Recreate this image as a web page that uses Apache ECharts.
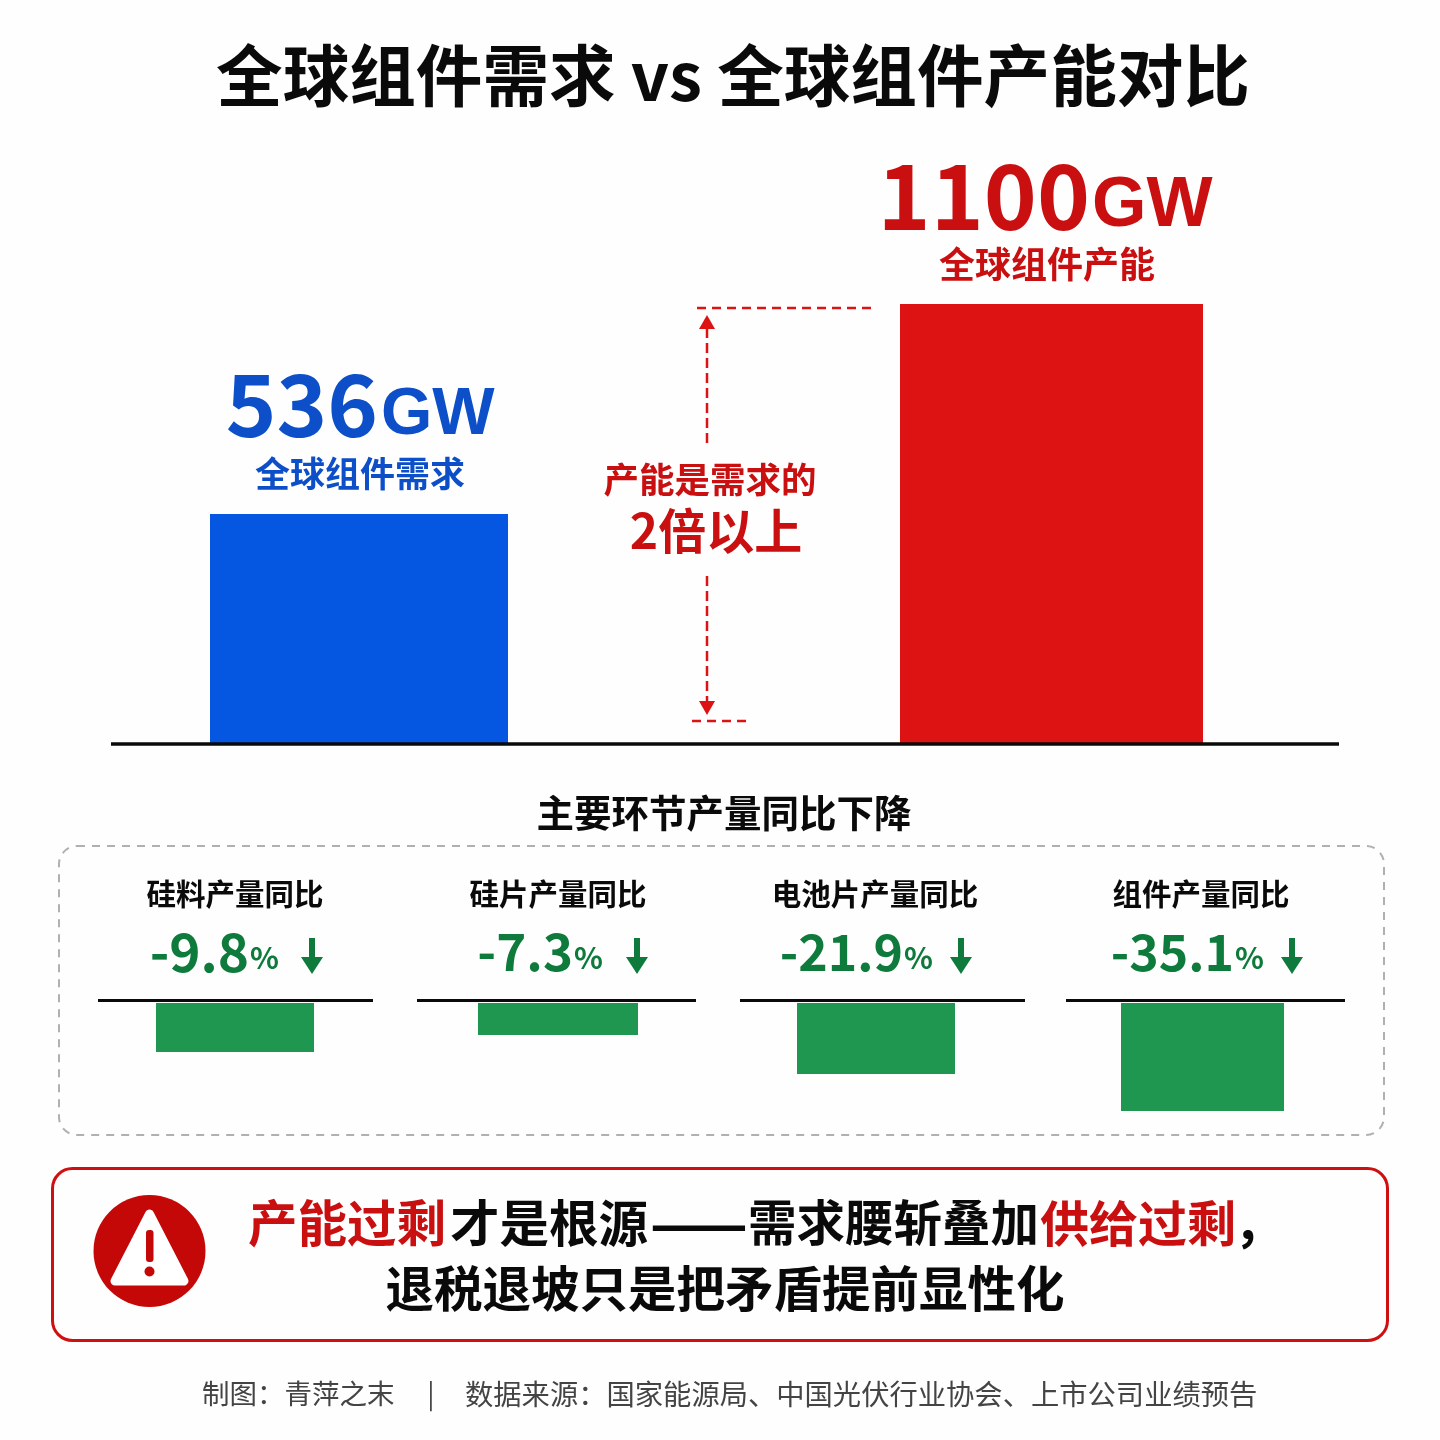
<!DOCTYPE html>
<html><head><meta charset="utf-8">
<style>html,body{margin:0;padding:0;background:#fefefe}#c{width:1440px;height:1440px}</style>
<script src="https://cdn.jsdelivr.net/npm/echarts@6/dist/echarts.min.js"></script>
</head><body><div id="c"></div>
<script>
var mainCategories = ['全球组件需求', '全球组件产能'];
var mainValues = [536, 1100];
var mainUnit = 'GW';
var panelCategories = ['硅料产量同比', '硅片产量同比', '电池片产量同比', '组件产量同比'];
var panelValues = [-9.8, -7.3, -21.9, -35.1];
var titleText = '全球组件需求 vs 全球组件产能对比';
var panelTitle = '主要环节产量同比下降';

var F = '"Noto Sans CJK SC","Noto Sans",sans-serif';
var FL = '"Liberation Sans",sans-serif';
var RED = '#dd1212', DRED = '#c90f0f', BLUE = '#0556e0', TBLUE = '#0d4fc8', GREEN = '#209750', TGREEN = '#0e7a3b', BLACK = '#0a0a0a';

function T(x, y, s, size, color, weight, align, fam) {
  return {type: 'text', x: x, y: y, z: 10, style: {text: s, font: (weight || 700) + ' ' + size + 'px ' + (fam || F), fill: color || BLACK, align: align || 'center', verticalAlign: 'middle'}};
}
function L(x1, y1, x2, y2, color, w, dash) {
  return {type: 'line', z: 8, shape: {x1: x1, y1: y1, x2: x2, y2: y2}, style: {stroke: color, lineWidth: w, lineDash: dash || null}};
}
function Arrow(cx, y0, y1, hw, hh, sw, color) {
  var d = y1 > y0 ? 1 : -1;
  return {type: 'polygon', z: 9, shape: {points: [[cx, y1], [cx - hw, y1 - d * hh], [cx - sw, y1 - d * hh], [cx - sw, y0], [cx + sw, y0], [cx + sw, y1 - d * hh], [cx + hw, y1 - d * hh]]}, style: {fill: color}};
}

var g = [];
g.push(T(733, 76, titleText, 66.6, BLACK, 700));

// main bar labels
g.push(T(378, 404, String(mainValues[0]), 86, TBLUE, 700, 'right'));
g.push(T(381, 416, mainUnit, 66, TBLUE, 700, 'left', FL));
g.push(T(360, 474, mainCategories[0], 35, TBLUE, 700));
g.push(T(1090, 196, String(mainValues[1]), 90, DRED, 700, 'right'));
g.push(T(1092, 207, mainUnit, 70, DRED, 700, 'left', FL));
g.push(T(1047, 264, mainCategories[1], 36, DRED, 700));

// baseline
g.push(L(111, 744, 1339, 744, BLACK, 3.5));

// difference annotation
g.push(L(697, 308, 872, 308, RED, 2.5, [9, 6]));
g.push(L(692, 721, 746, 721, RED, 2.5, [9, 6]));
g.push(L(707, 328, 707, 443, RED, 2.5, [10, 5]));
g.push(L(707, 576, 707, 703, RED, 2.5, [10, 5]));
g.push(Arrow(707, 329, 315, 8, 14, 1, RED));
g.push(Arrow(707, 700, 715, 8, 14, 1, RED));
g.push(T(710, 480, '产能是需求的', 35.5, DRED, 700));
g.push(T(716, 531, '2倍以上', 48, DRED, 700));

// panel
g.push(T(724, 813, panelTitle, 37.5, BLACK, 700));
g.push({type: 'rect', z: 1, shape: {x: 59, y: 846, width: 1325, height: 289, r: 18}, style: {fill: 'none', stroke: '#b0b0b0', lineWidth: 2, lineDash: [8, 7]}});

var panelBar = [[156, 158, 49], [478, 160, 32], [797, 158, 71], [1121, 163, 108]];
var panelLine = [[98, 373], [417, 696], [740, 1025], [1066, 1345]];
var panelTitleX = [235, 558, 875, 1201];
var numRight = [249, 573, 903, 1234];
var numSize = [53, 51, 50, 50];
var arrowX = [312, 637, 961, 1292];

var grids = [
  {left: 210, width: 298, top: 514, height: 230},
  {left: 900, width: 303, top: 304, height: 440}
];
var xAxes = [], yAxes = [], series = [];
mainCategories.forEach(function (c, i) {
  xAxes.push({gridIndex: i, type: 'category', data: [c], show: false});
  yAxes.push({gridIndex: i, type: 'value', min: 0, max: mainValues[i], show: false});
  series.push({type: 'bar', name: c, xAxisIndex: i, yAxisIndex: i, barWidth: '100%', data: [mainValues[i]], itemStyle: {color: i ? RED : BLUE}, silent: true});
});

panelCategories.forEach(function (c, i) {
  var b = panelBar[i], l = panelLine[i], k = i + 2;
  grids.push({left: b[0], top: 1003, width: b[1], height: b[2]});
  xAxes.push({gridIndex: k, type: 'category', data: [c], show: false});
  yAxes.push({gridIndex: k, type: 'value', min: panelValues[i], max: 0, show: false});
  series.push({type: 'bar', name: c, xAxisIndex: k, yAxisIndex: k, barWidth: '100%', data: [panelValues[i]], itemStyle: {color: GREEN}, silent: true});
  g.push(L(l[0], 1000.5, l[1], 1000.5, BLACK, 3));
  g.push(T(panelTitleX[i], 894, c, 29.5, BLACK, 700));
  g.push(T(numRight[i], 952, panelValues[i].toFixed(1), numSize[i], TGREEN, 700, 'right'));
  g.push(T(numRight[i] + 1, 958, '%', 30, TGREEN, 600, 'left'));
  g.push(Arrow(arrowX[i], 938, 974, 11, 17, 3, TGREEN));
});

// callout
g.push({type: 'rect', z: 1, shape: {x: 52.5, y: 1168.5, width: 1335, height: 172, r: 20}, style: {fill: 'none', stroke: '#cf1010', lineWidth: 3}});
g.push({type: 'circle', z: 5, shape: {cx: 149.5, cy: 1251, r: 56}, style: {fill: '#c40808'}});
g.push({type: 'polygon', z: 6, shape: {points: [[149.5, 1214], [184, 1281], [115, 1281]]}, style: {fill: '#ffffff', stroke: '#ffffff', lineWidth: 9, lineJoin: 'round'}});
g.push({type: 'rect', z: 7, shape: {x: 146, y: 1230, width: 7.5, height: 32, r: 3}, style: {fill: '#c40808'}});
g.push({type: 'circle', z: 7, shape: {cx: 149.5, cy: 1271.5, r: 5}, style: {fill: '#c40808'}});

var callParts = [['产能过剩', DRED, 248, 49.5], ['才是根源', BLACK, 450, 49.5], ['——', BLACK, 650, 57.5], ['需求腰斩叠加', BLACK, 748, 48.5], ['供给过剩', DRED, 1040, 49], ['，', BLACK, 1234, 49.5]];
callParts.forEach(function (p) { g.push(T(p[2], 1223, p[0], p[3], p[1], 700, 'left')); });
g.push(T(725, 1289, '退税退坡只是把矛盾提前显性化', 48.5, BLACK, 700));

// footer
g.push(T(202, 1394, '制图：青萍之末', 27.5, '#444444', 400, 'left'));
g.push(T(431, 1394, '|', 27, '#444444', 400));
g.push(T(465, 1394, '数据来源：国家能源局、中国光伏行业协会、上市公司业绩预告', 28.3, '#444444', 400, 'left'));

var chart = echarts.init(document.getElementById('c'), null, {renderer: 'canvas'});
chart.setOption({
  animation: false,
  backgroundColor: '#fefefe',
  grid: grids, xAxis: xAxes, yAxis: yAxes, series: series,
  graphic: {elements: g}
});
</script></body></html>
